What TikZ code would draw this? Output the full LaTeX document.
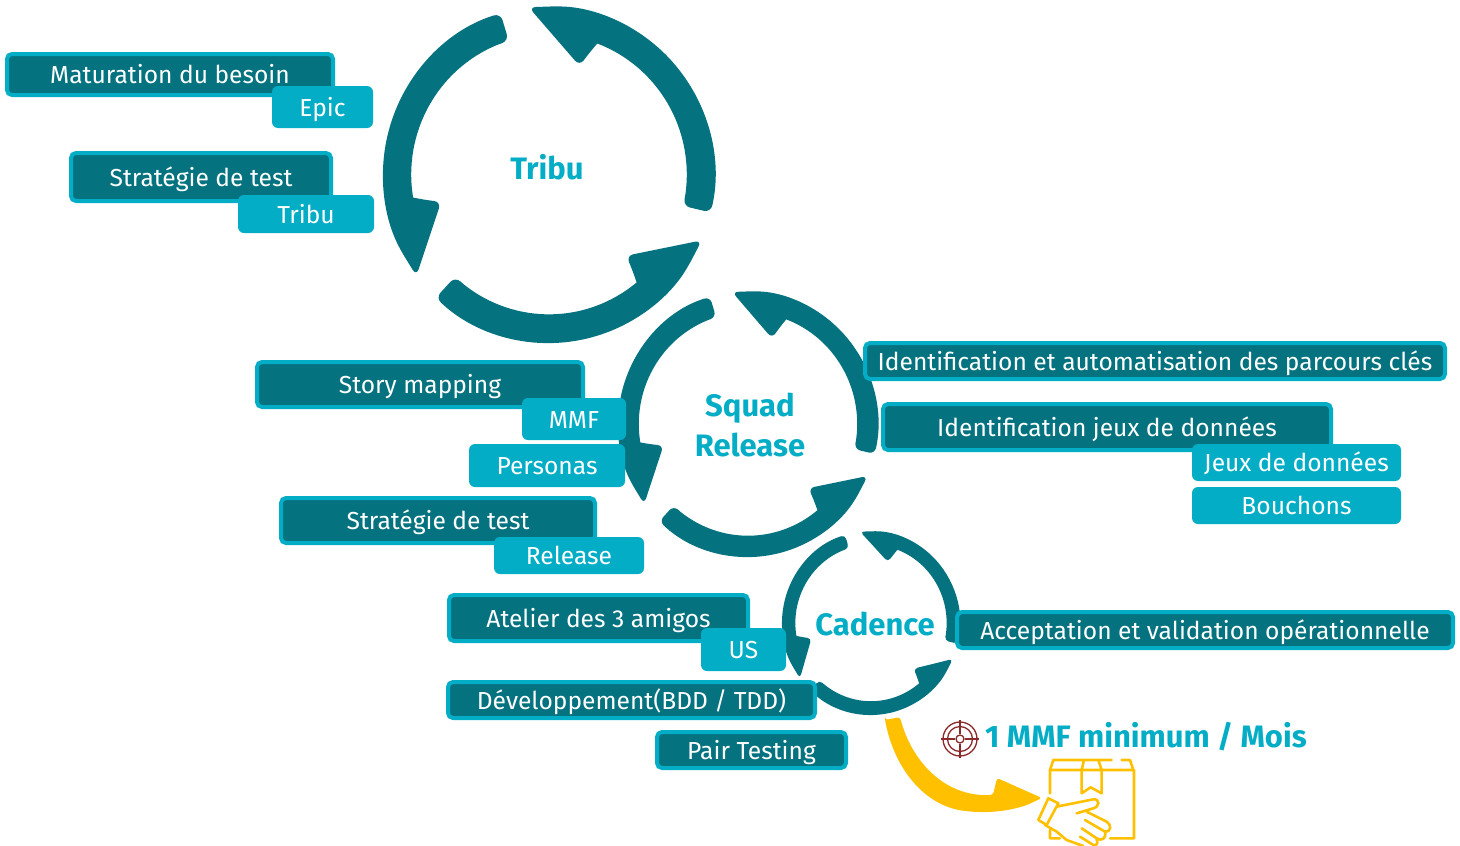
\documentclass[tikz,border=0pt]{standalone}
\usepackage{fontspec}
\setmainfont{Fira Sans}
\definecolor{darkteal}{HTML}{04727F}
\definecolor{lightcyan}{HTML}{04ADC6}
\definecolor{newyellow}{HTML}{FFC000}
\definecolor{targetred}{HTML}{8B2A2A}
\usetikzlibrary{positioning}
\tikzset{
	darkbox/.style = {rectangle, rounded corners = 5pt, fill = darkteal, draw = lightcyan, line width = 4pt, text = white, font = \fontsize{24.6}{28}\selectfont, text height = 20pt, text depth = 2pt, inner sep = 0pt},
	lightbox/.style = {rectangle, rounded corners = 6pt, fill = lightcyan, text = white, font = \fontsize{24.6}{28}\selectfont, text height = 20pt, text depth = 2pt, inner sep = 0pt},
	cycletitle/.style = {text = lightcyan, font = \fontsize{31}{35}\selectfont\bfseries, inner sep = 0pt}
}
% centre x, centre y, x radius, y radius, inner ratio, wing ratio, corner radius
\newcommand{\cyclearrows}[7]{
	\begin{scope}[shift = {(#1,#2)}, x = #3pt, y = #4pt]
		\foreach \a in {0, 120, 240}
			\fill[darkteal, rounded corners = #7pt] ({107+\a}:1) arc ({107+\a}:{207+\a}:1) -- ({217+\a}:1) -- ({194+\a}:#6) -- ({191.75+\a}:{(#5+#6)/2}) [sharp corners] -- ({189.5+\a}:#5) arc ({189.5+\a}:{112+\a}:#5) [rounded corners = #7pt] -- ({107+\a}:#5) -- cycle;
	\end{scope}
}

\begin{document}
\begin{tikzpicture}[x = 1pt, y = -1pt]
\useasboundingbox (0,0) rectangle (1460,846);

% cycles
\cyclearrows{549}{174.5}{166}{168.5}{0.83}{0.67}{7}
\cyclearrows{748}{424}{130}{133}{0.84}{0.67}{6}
\cyclearrows{871}{623}{89}{92}{0.85}{0.69}{4}
\node[cycletitle] (tributitle) at (547,167.5) {Tribu};
\node[cycletitle] (squadtitle) at (750,408.5) {Squad};
\node[cycletitle] (releasetitle) at (750,445) {Release};
\node[cycletitle] (cadencetitle) at (875,624) {Cadence};

% tribu
\node[darkbox, minimum width = 326pt, minimum height = 41pt] (besoin) at (170,74.5) {Maturation du besoin};
\node[lightbox, minimum width = 101pt, minimum height = 42pt] (epic) at (322.5,107) {Epic};
\node[darkbox, minimum width = 260pt, minimum height = 48pt] (strategietribu) at (201,177) {Stratégie de test};
\node[lightbox, minimum width = 136pt, minimum height = 38pt] (tribu) at (306,214) {Tribu};

% squad release
\node[darkbox, minimum width = 326pt, minimum height = 45pt] (story) at (420,384.5) {Story mapping};
\node[lightbox, minimum width = 104pt, minimum height = 42pt] (mmf) at (574,419) {MMF};
\node[lightbox, minimum width = 156pt, minimum height = 43pt] (personas) at (547,465.5) {Personas};
\node[darkbox, minimum width = 314pt, minimum height = 45pt] (strategierelease) at (438,520.5) {Stratégie de test};
\node[lightbox, minimum width = 150pt, minimum height = 37pt] (release) at (569,555.5) {Release};
\node[darkbox, minimum width = 580pt, minimum height = 36pt] (parcours) at (1155,361) {Identification et automatisation des parcours clés};
\node[darkbox, minimum width = 448pt, minimum height = 46pt] (jeux) at (1107,427) {Identification jeux de données};
\node[lightbox, minimum width = 209pt, minimum height = 37pt] (donnees) at (1296.5,462.5) {Jeux de données};
\node[lightbox, minimum width = 209pt, minimum height = 37pt] (bouchons) at (1296.5,505.5) {Bouchons};

% cadence
\node[darkbox, minimum width = 299pt, minimum height = 46pt] (atelier) at (598.5,618) {Atelier des 3 amigos};
\node[lightbox, minimum width = 85pt, minimum height = 43pt] (us) at (743.5,649.5) {US};
\node[darkbox, minimum width = 367pt, minimum height = 36pt] (dev) at (631.5,700) {Développement(BDD / TDD)};
\node[darkbox, minimum width = 189pt, minimum height = 36pt] (pair) at (751.5,750) {Pair Testing};
\node[darkbox, minimum width = 496pt, minimum height = 36pt] (acceptation) at (1205,630) {Acceptation et validation opérationnelle};

% objectif
\node[cycletitle, anchor = west] (objectif) at (985,737) {1 MMF minimum / Mois};
\fill[newyellow, rounded corners = 3pt] (885,720) -- (900,717) .. controls (912,762) and (945,797) .. (993,795) -- (997,778) -- (1042,798) -- (1027,805) .. controls (1005,812) and (985,813) .. (965,811) .. controls (925,805) and (895,770) .. cycle;

% cible
\draw[targetred, line width = 1.3pt] (960,739) circle (17pt) (960,739) circle (12.5pt);
\draw[targetred, line width = 1.3pt] (960,739) circle (4pt);
\draw[targetred, line width = 1.3pt] (941,739) -- (955,739) (965,739) -- (979,739) (960,720) -- (960,734) (960,744) -- (960,758);

% colis
\begin{scope}[shift = {(880,700)}, x = 0.3333pt, y = -0.3333pt]
	\draw[newyellow, line width = 2.6pt, line cap = round, line join = round]
		(695,180) -- (520,180) -- (510,210) -- (760,210) -- (750,180) -- (725,180)
		(510,210) -- (510,280) (762,210) -- (762,415) -- (690,415)
		(510,390) -- (510,415) -- (540,415)
		(612,180) -- (605,210) -- (605,280) -- (632,262) -- (665,280) -- (665,210) -- (655,180)
		(505,295) -- (535,310) -- (500,375) -- (475,360) -- cycle
		(530,320) -- (640,298) .. controls (660,296) and (660,320) .. (640,325) -- (590,340)
		(620,335) -- (680,365) .. controls (695,375) and (695,395) .. (675,395) -- (615,360)
		(675,395) .. controls (680,415) and (665,425) .. (650,415) -- (605,385)
		(650,418) .. controls (655,430) and (650,438) .. (640,435) -- (600,410)
		(495,375) -- (530,395) -- (560,420) -- (610,438);
\end{scope}
\end{tikzpicture}
\end{document}
